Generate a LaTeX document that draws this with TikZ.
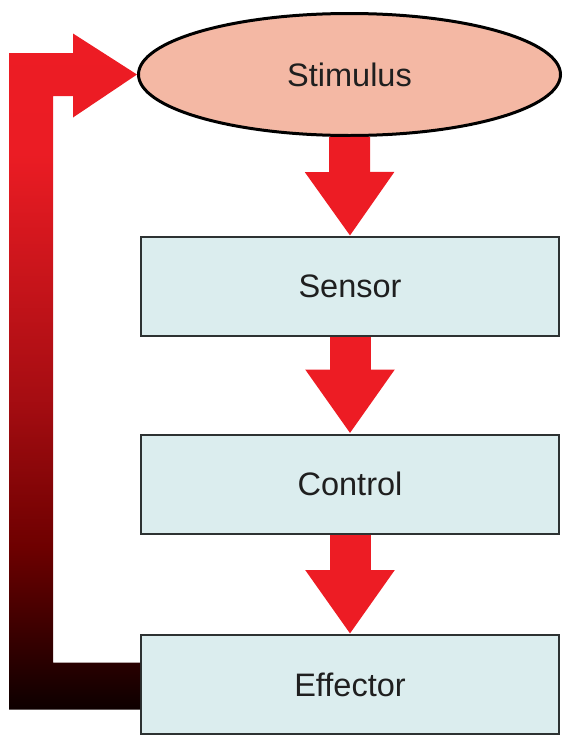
\documentclass[tikz,border=0pt]{standalone}
\usepackage{fontspec}
\setmainfont{Liberation Sans}
\usetikzlibrary{shapes.geometric,arrows.meta,calc}

\definecolor{flowred}{RGB}{237,28,36}
\definecolor{stimfill}{RGB}{244,184,164}
\definecolor{boxfill}{RGB}{219,237,238}
\definecolor{boxline}{RGB}{45,50,50}

% red at the top fading to near black at the bottom
\pgfdeclareverticalshading{fbgrad}{100bp}{%
  rgb(0bp)=(0.05,0,0); rgb(25bp)=(0.05,0,0); rgb(37bp)=(0.43,0,0);
  rgb(48bp)=(0.65,0.05,0.07); rgb(66bp)=(0.92,0.11,0.14);
  rgb(75bp)=(0.93,0.11,0.14); rgb(100bp)=(0.93,0.11,0.14)}

\tikzset{
  label text/.style={font=\fontsize{32.5}{38}\selectfont, text=black!88},
  stimnode/.style={ellipse, draw=black, line width=3pt, fill=stimfill,
    minimum width=422pt, minimum height=122pt, inner sep=0pt, label text},
  stagebox/.style={rectangle, draw=boxline, line width=2pt, fill=boxfill,
    minimum width=418pt, minimum height=99pt, inner sep=0pt, label text},
  flowarrow/.style={draw=flowred, line width=41pt,
    -{Triangle[width=85pt,length=64pt,fill=flowred]}},
  feedback/.style={shading=fbgrad}
}

\begin{document}
\begin{tikzpicture}[x=1pt,y=-1pt]
  \useasboundingbox (0,0) rectangle (563,737);

  % stages of the loop
  \node[stimnode] (stim) at (349.5,74.5) {Stimulus};
  \node[stagebox] (sensor) at (350,286.5) {Sensor};
  \node[stagebox] (control) at (350,484) {Control};
  \node[stagebox] (eff) at (350,684.5) {Effector};

  % downward block arrows between stages
  \draw[flowarrow] (stim.south) -- (sensor.north);
  \draw[flowarrow] (sensor.south) -- (control.north);
  \draw[flowarrow] (control.south) -- (eff.north);

  % feedback path from the effector back to the stimulus
  \path (eff.west) ++(0,-22) coordinate (fbA) ++(0,47) coordinate (fbB);
  \path (stim.west) ++(-64,-41) coordinate (hdT) ++(0,84) coordinate (hdB);
  \shade[feedback] (fbA) -- (53,662.5) -- (53,96) -- (73,96) -- (hdB)
    -- (stim.west) -- (hdT) -- (73,53) -- (9,53) -- (9,709.5) -- (fbB) -- cycle;
\end{tikzpicture}
\end{document}
